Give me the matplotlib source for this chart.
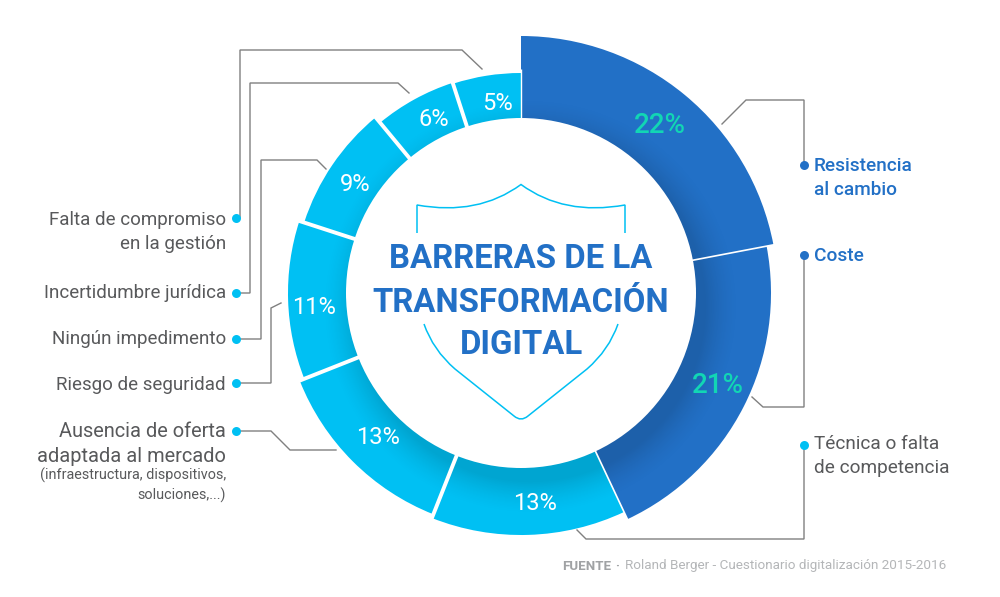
import numpy as np
import matplotlib
matplotlib.use("Agg")
import matplotlib.pyplot as plt
from matplotlib.patches import Wedge, Circle, PathPatch
from matplotlib.path import Path

# DATA
values = [22, 21, 13, 13, 11, 9, 6, 5]
value_labels = ["22%", "21%", "13%", "13%", "11%", "9%", "6%", "5%"]
title_lines = ["BARRERAS DE LA", "TRANSFORMACIÓN", "DIGITAL"]
labels_right = ["Resistencia\nal cambio", "Coste", "Técnica o falta\nde competencia"]
labels_left = ["Falta de compromiso\nen la gestión", "Incertidumbre jurídica",
               "Ningún impedimento", "Riesgo de seguridad"]
label_offer = "Ausencia de oferta\nadaptada al mercado"
note_left = "(infraestructura, dispositivos,\nsoluciones,...)"
source_bold = "FUENTE"
source_text = "Roland Berger - Cuestionario digitalización 2015-2016"

# style
BLUE = "#2270c6"
CYAN = "#00c0f3"
TEAL = "#12d6b4"
GREY = "#58595b"
FONT = "Roboto"
plt.rcParams["font.family"] = FONT

cx, cy = 521.0, 293.0
r_in = 175.0
r_out = [257, 250, 242, 238, 233, 228, 221, 220]
colors = [BLUE, BLUE, CYAN, CYAN, CYAN, CYAN, CYAN, CYAN]
gaps = [1.2, 1.2, 2.8, 2.8, 2.8, 2.8, 2.8, 1.0]
# nudges for the percent labels, the original doesn't sit them mid ring
label_nudge = [(0, 0), (6, -5), (7, 0), (4, -3), (-1, 8), (2, 6), (9, 2), (8, 8)]

fig = plt.figure(figsize=(10, 5.97), dpi=100)
ax = fig.add_axes([0, 0, 1, 1])
ax.set_xlim(0, 1000)
ax.set_ylim(597, 0)  # y runs downward like the picture, so wedges go clockwise
ax.axis("off")

# soft shadow of the white centre, offset to the lower right
xx, yy = np.meshgrid(np.arange(0, 1000), np.arange(0, 597))
dist = np.hypot(xx - (cx + 9), yy - (cy + 13))
shade = np.clip(1 - (dist - r_in) / 34, 0, 1) ** 1.6 * 0.14
shadow = np.zeros((597, 1000, 4))
shadow[..., 3] = shade

total = sum(values)
angle = -90.0
for val, lab, r, col, g, nudge in zip(values, value_labels, r_out, colors, gaps, label_nudge):
    span = val / total * 360
    w = Wedge((cx, cy), r, angle, angle + span, width=r - r_in + 3, fc=col, ec="none", zorder=1)
    ax.add_patch(w)
    im = ax.imshow(shadow, extent=(0, 1000, 597, 0), zorder=2, aspect="auto")
    im.set_clip_path(w)
    # separator at the end of each segment
    end = np.deg2rad(angle + span)
    ax.plot([cx + (r_in - 3) * np.cos(end), cx + (r + 4) * np.cos(end)],
            [cy + (r_in - 3) * np.sin(end), cy + (r + 4) * np.sin(end)],
            color="white", lw=g, zorder=3, solid_capstyle="butt")
    mid = np.deg2rad(angle + span / 2)
    rm = (r + r_in) / 2 + 2
    big = val > 20
    ax.text(cx + rm * np.cos(mid) + nudge[0], cy + rm * np.sin(mid) + nudge[1], lab,
            ha="center", va="center", color=TEAL if big else "white",
            fontsize=20 if big else 17, fontweight="medium" if big else "normal", zorder=5)
    angle += span

ax.add_patch(Circle((cx, cy), r_in, fc="white", ec="none", zorder=4))
ax.set_xlim(0, 1000)
ax.set_ylim(597, 0)

# shield outline
shield_top = Path([(417, 233), (417, 205), (478, 216), (521, 184.5), (564, 216), (625, 205), (625, 233)],
                  [Path.MOVETO, Path.LINETO, Path.CURVE3, Path.CURVE3, Path.CURVE3, Path.CURVE3, Path.LINETO])
shield_bot = Path([(424, 324), (433, 350), (455, 369), (514, 416), (521, 422), (528, 416),
                   (587, 369), (609, 350), (618, 324)],
                  [Path.MOVETO, Path.CURVE3, Path.CURVE3, Path.LINETO, Path.CURVE3, Path.CURVE3,
                   Path.LINETO, Path.CURVE3, Path.CURVE3])
for p in (shield_top, shield_bot):
    ax.add_patch(PathPatch(p, fc="none", ec=CYAN, lw=1.1, zorder=5))

for line, y in zip(title_lines, [259.5, 302.5, 344.5]):
    ax.text(521, y, line, ha="center", va="center", color=BLUE, fontsize=23.7, fontweight="bold", zorder=6)

# leader lines
leaders = [
    ([236, 240, 240, 462, 482], [218, 218, 50, 50, 69]),
    ([236, 250, 250, 398, 409], [293, 293, 83, 83, 93]),
    ([236, 261, 261, 317, 326], [339, 339, 160, 160, 169]),
    ([236, 271, 271, 281], [383, 383, 308, 303]),
    ([236, 271, 290, 336], [431, 431, 450, 450]),
    ([804, 804, 746, 722], [165, 100, 100, 124]),
    ([804, 804, 763, 752], [255, 407, 407, 397]),
    ([804, 804, 586, 577], [445, 539, 539, 530]),
]
for xs, ys in leaders:
    ax.plot(xs, ys, color="#808080", lw=1.0, zorder=0.5, solid_joinstyle="miter")

# dots
ax.scatter([236] * 5, [218, 293, 339, 383, 431], s=42, color=CYAN, zorder=6, lw=0)
ax.scatter([804], [165], s=42, color=BLUE, zorder=6, lw=0)
ax.scatter([804], [255], s=42, color=BLUE, zorder=6, lw=0)
ax.scatter([804], [445], s=42, color=CYAN, zorder=6, lw=0)

# labels
for lab, y in zip(labels_left, [232, 293, 339, 385]):
    ax.text(226, y, lab, ha="right", va="center", color=GREY, fontsize=13.5, linespacing=1.4)
ax.text(226, 444, label_offer, ha="right", va="center", color=GREY, fontsize=14.4, linespacing=1.36)
ax.text(226, 485, note_left, ha="right", va="center", color=GREY, fontsize=10.4, linespacing=1.4)
for lab, y, col, wt in zip(labels_right, [178, 256, 456], [BLUE, BLUE, GREY], ["medium", "medium", "normal"]):
    ax.text(814, y, lab, ha="left", va="center", color=col, fontsize=13.7, fontweight=wt, linespacing=1.4)

ax.text(562, 566, source_bold, ha="left", va="center", color="#a0a2a4", fontsize=9.6, fontweight="bold")
ax.text(617, 566, "·", ha="center", va="center", color="#a0a2a4", fontsize=9.6, fontweight="bold")
ax.text(625, 566, source_text, ha="left", va="center", color="#b4b6b8", fontsize=9.7)

fig.savefig("out.png", dpi=100)
